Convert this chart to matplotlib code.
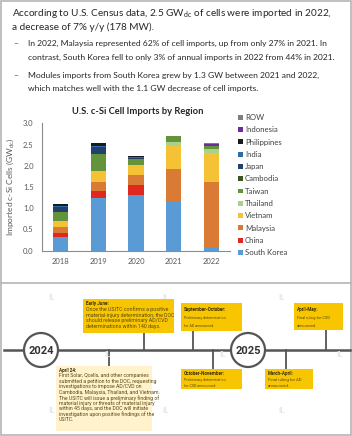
import matplotlib.pyplot as plt
from matplotlib.patches import Circle, Rectangle

plt.rcParams['font.family'] = ['Lato', 'DejaVu Sans']

years = ['2018', '2019', '2020', '2021', '2022']
regions = ['South Korea', 'China', 'Malaysia', 'Vietnam', 'Thailand', 'Taiwan',
           'Cambodia', 'Japan', 'India', 'Philippines', 'Indonesia', 'ROW']
south_korea = [0.32, 1.24, 1.30, 1.18, 0.075]
china = [0.09, 0.17, 0.25, 0.0, 0.0]
malaysia = [0.14, 0.20, 0.23, 0.74, 1.55]
vietnam = [0.16, 0.27, 0.24, 0.55, 0.68]
thailand = [0.0, 0.0, 0.0, 0.10, 0.10]
taiwan = [0.20, 0.40, 0.13, 0.12, 0.05]
cambodia = [0.0, 0.0, 0.0, 0.0, 0.0]
japan = [0.13, 0.17, 0.04, 0.0, 0.0]
india = [0.02, 0.02, 0.01, 0.0, 0.0]
philippines = [0.04, 0.06, 0.03, 0.0, 0.0]
indonesia = [0.0, 0.0, 0.0, 0.0, 0.05]
row = [0.01, 0.01, 0.01, 0.0, 0.02]
series = [south_korea, china, malaysia, vietnam, thailand, taiwan,
          cambodia, japan, india, philippines, indonesia, row]
colors = ['#5B9BD5', '#E0281E', '#D97B35', '#F5C235', '#A9D18E', '#63933A',
          '#375623', '#22406E', '#2E6DA8', '#1A1A1A', '#6A2C9E', '#7F7F7F']

W, H = 352, 436
fig = plt.figure(figsize=(W / 100, H / 100), dpi=100)
bg = fig.add_axes([0, 0, 1, 1])
bg.set_xlim(0, W)
bg.set_ylim(H, 0)
bg.axis('off')

# panel borders
bg.add_patch(Rectangle((0.8, 0.8), W - 1.6, H - 1.6, fill=False, ec='#b5b5b5', lw=1.2))
bg.plot([0, W], [283, 283], color='#b5b5b5', lw=1.2)

renderer = fig.canvas.get_renderer()


def fit(t, width):
    bb = t.get_window_extent(renderer)
    t.set_fontsize(t.get_fontsize() * width / bb.width)
    return t.get_fontsize()


# header text
tc = '#262626'
t1 = bg.text(12, 13, r'According to U.S. Census data, 2.5 GW$_{\mathregular{dc}}$ of cells were imported in 2022,',
             fontsize=7, color=tc, va='center')
fs1 = fit(t1, 322)
bg.text(12, 27, 'a decrease of 7% y/y (178 MW).', fontsize=fs1, color=tc, va='center')

b1 = bg.text(28, 43.5, 'In 2022, Malaysia represented 62% of cell imports, up from only 27% in 2021. In',
             fontsize=6, color=tc, va='center')
fs2 = fit(b1, 302)
bullets = ['contrast, South Korea fell to only 3% of annual imports in 2022 from 44% in 2021.',
           'Modules imports from South Korea grew by 1.3 GW between 2021 and 2022,',
           'which matches well with the 1.1 GW decrease of cell imports.']
for txt, y in zip(bullets, [57.5, 75.5, 89]):
    bg.text(28, y, txt, fontsize=fs2, color=tc, va='center')
for y in [43.5, 75.5]:
    bg.text(13, y, '\u2013', fontsize=fs2, color=tc, va='center')

tt = bg.text(138, 111, 'U.S. c-Si Cell Imports by Region', fontsize=7, fontweight='bold',
             color=tc, ha='center', va='center')
fit(tt, 133)

# stacked bar chart
ax = fig.add_axes([42 / W, 1 - 250.7 / H, 188 / W, 127.4 / H])
x = range(len(years))
bottom = [0.0] * len(years)
for name, vals, c in zip(regions, series, colors):
    ax.bar(x, vals, 0.4, bottom=bottom, color=c, label=name)
    bottom = [b + v for b, v in zip(bottom, vals)]
ax.set_xlim(-0.5, 4.5)
ax.set_ylim(0, 3.0)
ax.set_yticks([0, 0.5, 1.0, 1.5, 2.0, 2.5, 3.0])
ax.set_yticklabels(['0.0', '0.5', '1.0', '1.5', '2.0', '2.5', '3.0'])
ax.set_xticks(list(x))
ax.set_xticklabels(years)
ax.tick_params(length=0, labelsize=5.5, labelcolor='#595959', pad=5)
ax.tick_params(axis='y', pad=6)
for s in ['top', 'right']:
    ax.spines[s].set_visible(False)
for s in ['left', 'bottom']:
    ax.spines[s].set_color('#8c8c8c')
    ax.spines[s].set_linewidth(0.8)
ax.set_ylabel(r'Imported c-Si Cells (GW$_{\mathregular{dc}}$)', fontsize=6, color='#595959', labelpad=5)
h, l = ax.get_legend_handles_labels()
ax.legend(h[::-1], l[::-1], loc='upper left', bbox_to_anchor=(238 / W, 1 - 114 / H),
          bbox_transform=fig.transFigure, frameon=False, fontsize=5.6, labelcolor='#404040',
          handlelength=0.6, handleheight=0.6, handletextpad=0.3, labelspacing=0.68,
          borderpad=0, borderaxespad=0)

# timeline
for wx, wy in [(52, 297), (166, 297), (282, 297), (108, 354), (223, 354), (340, 354),
               (52, 410), (166, 410), (282, 410)]:
    bg.text(wx, wy, 'IL', fontsize=6, color='#e6e6e6', ha='center', va='center', fontweight='bold')

line_c = '#555555'
bg.plot([4, W - 2], [350, 350], color=line_c, lw=1.8, zorder=2)
for cx, year in [(41, '2024'), (248, '2025')]:
    bg.add_patch(Circle((cx, 350), 17, fc='white', ec=line_c, lw=1.6, zorder=3))
    bg.text(cx, 350.5, year, fontsize=8, fontweight='bold', color='#333333', ha='center',
            va='center', zorder=4, family=['Roboto', 'DejaVu Sans'])

yellow = '#F7C600'
pale = '#FFF2CC'
boxes = [
    (83, 299, 91, 34, yellow, 144, 'Early June:',
     ['Once the USITC confirms a positive', 'material-injury determination, the DOC',
      'should release preliminary AD/CVD', 'determinations within 140 days.'], 303.5, 5.8, 85),
    (181, 303, 61, 28, yellow, 193, 'September-October:',
     ['Preliminary determination', 'for AD announced.'], 309.5, 8, 43),
    (294, 303, 49, 27, yellow, 326, 'April-May:',
     ['Final ruling for CVD', 'announced.'], 309.5, 8.2, 34),
    (56, 366, 96, 65, pale, 109, 'April 24:',
     ['First Solar, Qcells, and other companies', 'submitted a petition to the DOC, requesting',
      'investigations to impose AD/CVD on', 'Cambodia, Malaysia, Thailand, and Vietnam.',
      'The USITC will issue a preliminary finding of', 'material injury or threats of material injury',
      'within 45 days, and the DOC will initiate', 'investigation upon positive findings of the',
      'USITC.'], 370, 5.55, 91),
    (181, 369, 61, 20, yellow, 213, 'October-November:',
     ['Preliminary determination', 'for CVD announced.'], 373.3, 6.3, 43),
    (265, 369, 48, 20, yellow, 286, 'March-April:',
     ['Final ruling for AD', 'announced.'], 373.3, 6.3, 34),
]
box_tc = '#5a4a10'
tl_font = ['Roboto', 'DejaVu Sans']
for bx, by, bw, bh, fc, lx, title, lines, ty, step, first_w in boxes:
    bg.add_patch(Rectangle((bx, by), bw, bh, fc=fc, ec='none', zorder=3))
    if by < 350:
        bg.plot([lx, lx], [by + bh, 350], color=line_c, lw=1.3, zorder=1)
    else:
        bg.plot([lx, lx], [350, by], color=line_c, lw=1.3, zorder=1)
    bg.text(bx + 3, ty, title, fontsize=3.3, fontweight='bold', color='#3d3000',
            va='center', zorder=4, family=tl_font)
    first = bg.text(bx + 3, ty + step, lines[0], fontsize=3.3, color=box_tc,
                    va='center', zorder=4, family=tl_font)
    fs = min(fit(first, first_w), 3.8)
    first.set_fontsize(fs)
    for i, ln in enumerate(lines[1:], start=2):
        bg.text(bx + 3, ty + step * i, ln, fontsize=fs, color=box_tc,
                va='center', zorder=4, family=tl_font)

fig.savefig('out.png', dpi=100)
